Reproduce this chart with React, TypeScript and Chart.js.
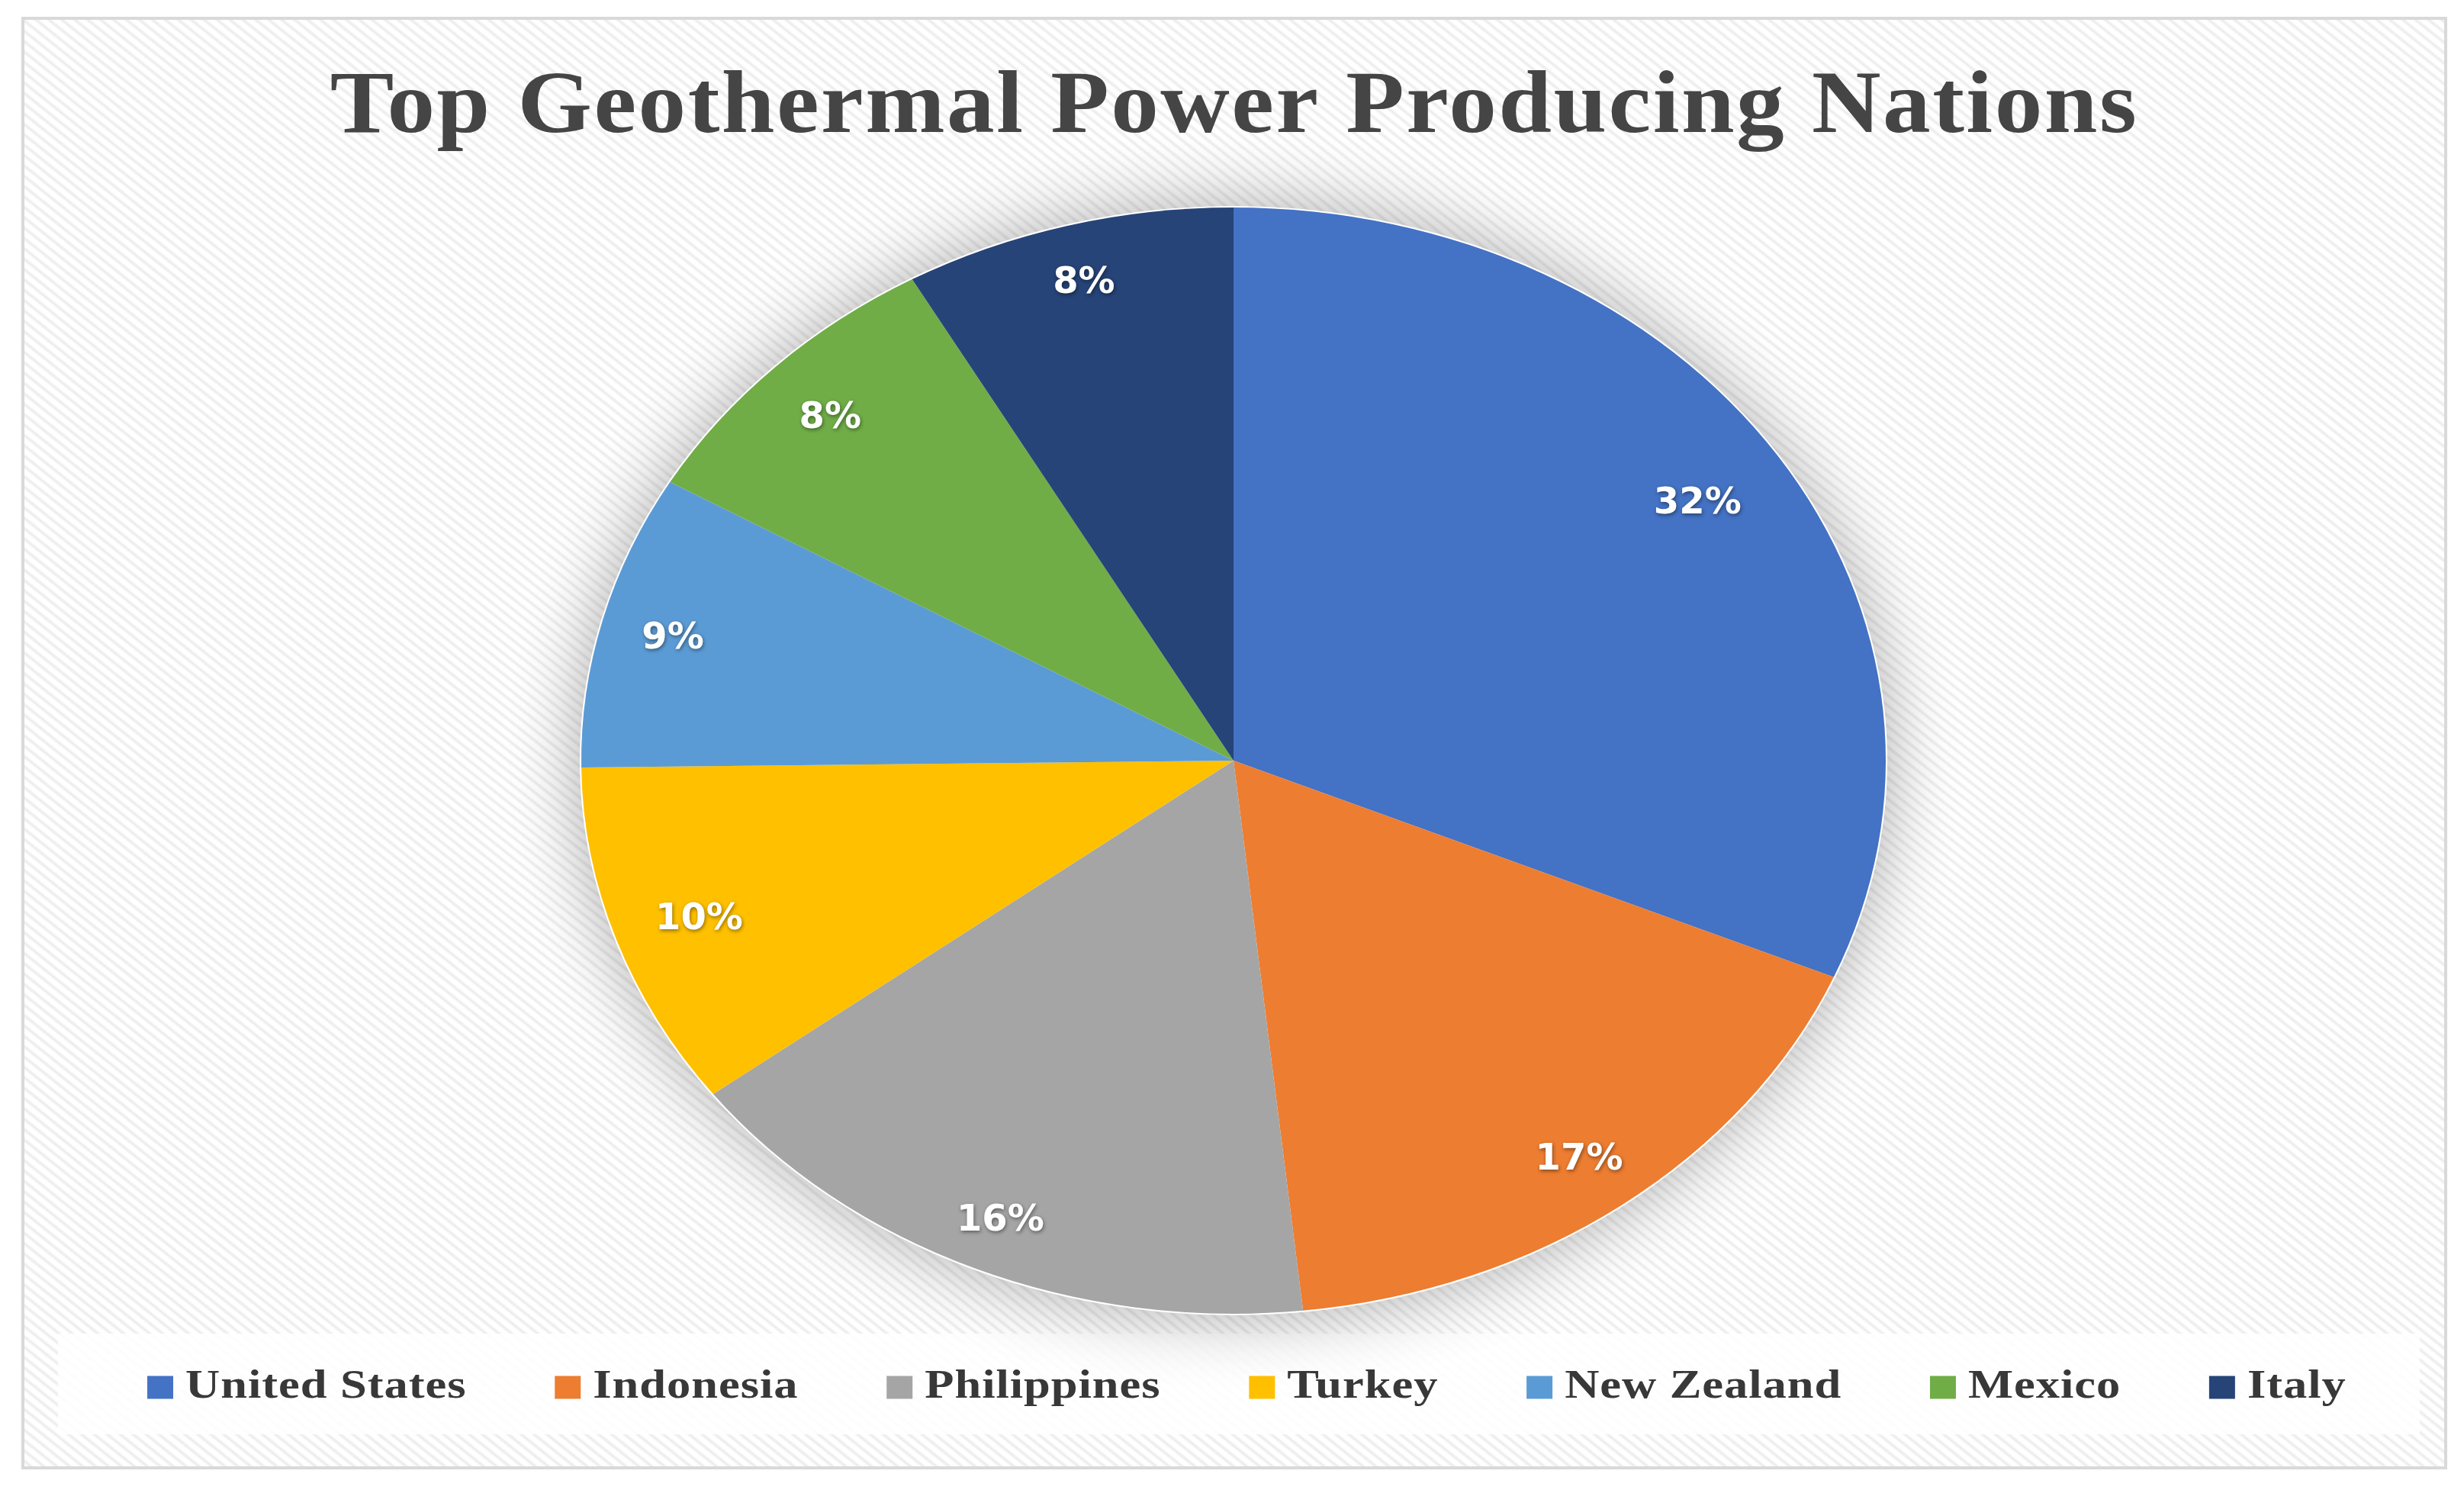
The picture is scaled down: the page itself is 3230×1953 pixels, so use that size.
import React, { useEffect, useRef } from "react";
import { Chart, registerables } from "chart.js";

Chart.register(...registerables);

const categories = ["United States", "Indonesia", "Philippines", "Turkey", "New Zealand", "Mexico", "Italy"];
const shares = [31.4, 16.9, 16.4, 10.1, 8.6, 8.4, 8.2];
const shareLabels = ["32%", "17%", "16%", "10%", "9%", "8%", "8%"];
const sliceColors = ["#4472C4", "#ED7D31", "#A5A5A5", "#FFC000", "#5B9BD5", "#70AD47", "#264478"];
const chartTitle = "Top Geothermal Power Producing Nations";

const labelRadius = [0.853, 0.89, 0.9, 0.866, 0.889, 0.88, 0.9];
const W = 3230;
const H = 1953;
const PIE = { cx: 1617, cy: 997, rx: 855, ry: 725 };
const TITLE_STRETCH = 1.08;
const TITLE_SPACING = "2.3px";
const LEGEND_STRETCH = 1.18;
const LEGEND_SPACING = "0.8px";

function stretchBox(chart: any, box: any, factor: number, spacing: string) {
  if (!box || box.__patched) return;
  box.__patched = true;
  const draw = box.draw;
  box.draw = function (...a: any[]) {
    const ctx = chart.ctx;
    const cx = (box.left + box.right) / 2;
    ctx.save();
    ctx.letterSpacing = spacing;
    ctx.translate(cx, 0);
    ctx.scale(factor, 1);
    ctx.translate(-cx, 0);
    draw.apply(this, a);
    ctx.restore();
  };
}

const piePlugin = {
  id: "ellipsePie",
  beforeLayout(chart: any) {
    chart.ctx.letterSpacing = LEGEND_SPACING;
  },
  afterLayout(chart: any) {
    const t = chart.titleBlock;
    if (t) {
      t.left -= 24;
      t.right -= 24;
    }
    stretchBox(chart, t, TITLE_STRETCH, TITLE_SPACING);
    stretchBox(chart, chart.legend, LEGEND_STRETCH, LEGEND_SPACING);
  },
  beforeDatasetsDraw(chart: any) {
    const ctx = chart.ctx;
    const arc = chart.getDatasetMeta(0).data[0];
    const r = arc.outerRadius;
    ctx.save();
    ctx.shadowColor = "rgba(0,0,0,0.32)";
    ctx.shadowBlur = 90;
    ctx.fillStyle = "#ffffff";
    ctx.beginPath();
    ctx.ellipse(PIE.cx, PIE.cy, PIE.rx + 2, PIE.ry + 2, 0, 0, Math.PI * 2);
    ctx.fill();
    ctx.restore();
    ctx.save();
    ctx.translate(PIE.cx, PIE.cy);
    ctx.scale(PIE.rx / r, PIE.ry / r);
    ctx.translate(-arc.x, -arc.y);
  },
  afterDatasetsDraw(chart: any) {
    const ctx = chart.ctx;
    ctx.restore();
    ctx.save();
    ctx.letterSpacing = "0px";
    ctx.font = "bold 48px 'DejaVu Sans'";
    ctx.textAlign = "center";
    ctx.textBaseline = "middle";
    ctx.fillStyle = "#ffffff";
    ctx.shadowColor = "rgba(0,0,0,0.45)";
    ctx.shadowBlur = 5;
    ctx.shadowOffsetX = 1;
    ctx.shadowOffsetY = 2;
    chart.getDatasetMeta(0).data.forEach((arc: any, i: number) => {
      const mid = (arc.startAngle + arc.endAngle) / 2;
      const x = PIE.cx + Math.cos(mid) * PIE.rx * labelRadius[i];
      const y = PIE.cy + Math.sin(mid) * PIE.ry * labelRadius[i] + 5;
      ctx.fillText(shareLabels[i], x, y);
    });
    ctx.restore();
  },
};

export default function App() {
  const ref = useRef<HTMLCanvasElement | null>(null);
  useEffect(() => {
    const chart = new Chart(ref.current as HTMLCanvasElement, {
      type: "pie",
      data: {
        labels: categories,
        datasets: [{ data: shares, backgroundColor: sliceColors, borderWidth: 0, clip: false } as any],
      },
      plugins: [piePlugin as any],
      options: {
        responsive: false,
        animation: false,
        devicePixelRatio: 1,
        layout: { padding: { left: 54, right: 0, top: 0, bottom: 98 } },
        plugins: {
          tooltip: { enabled: false },
          title: {
            display: true,
            text: chartTitle,
            color: "#454545",
            font: { family: "'Liberation Serif'", size: 116, weight: "bold", lineHeight: 1.2 },
            padding: { top: 73, bottom: 60 },
          },
          legend: {
            position: "bottom",
            align: "center",
            labels: {
              color: "#383838",
              font: { family: "'Liberation Serif'", size: 53, weight: "bold", lineHeight: 1 },
              boxWidth: 3,
              boxHeight: 4,
              padding: 111,
              generateLabels(c: any) {
                const base = (Chart as any).overrides.pie.plugins.legend.labels.generateLabels(c);
                return base.map((it: any) => ({ ...it, strokeStyle: it.fillStyle, lineWidth: 25.8 }));
              },
            },
          },
        },
      } as any,
    });
    return () => chart.destroy();
  }, []);

  return (
    <div style={{ position: "absolute", left: 0, top: 0, width: W, height: H, overflow: "hidden", background: "#fff" }}>
      <div
        style={{
          position: "absolute",
          left: 28,
          top: 22,
          width: 3180,
          height: 1904,
          boxSizing: "border-box",
          border: "4px solid #d9d9d9",
          background: "repeating-linear-gradient(38.7deg, #ffffff 0px, #ffffff 2px, #ebebeb 5.3px, #ffffff 8.6px, #ffffff 10.6px)",
        }}
      />
      <div
        style={{
          position: "absolute",
          left: 76,
          top: 1748,
          width: 3096,
          height: 132,
          background: "rgba(255,255,255,0.85)",
        }}
      />
      <canvas ref={ref} width={W} height={H} style={{ position: "absolute", left: 0, top: 0, width: W, height: H }} />
    </div>
  );
}
